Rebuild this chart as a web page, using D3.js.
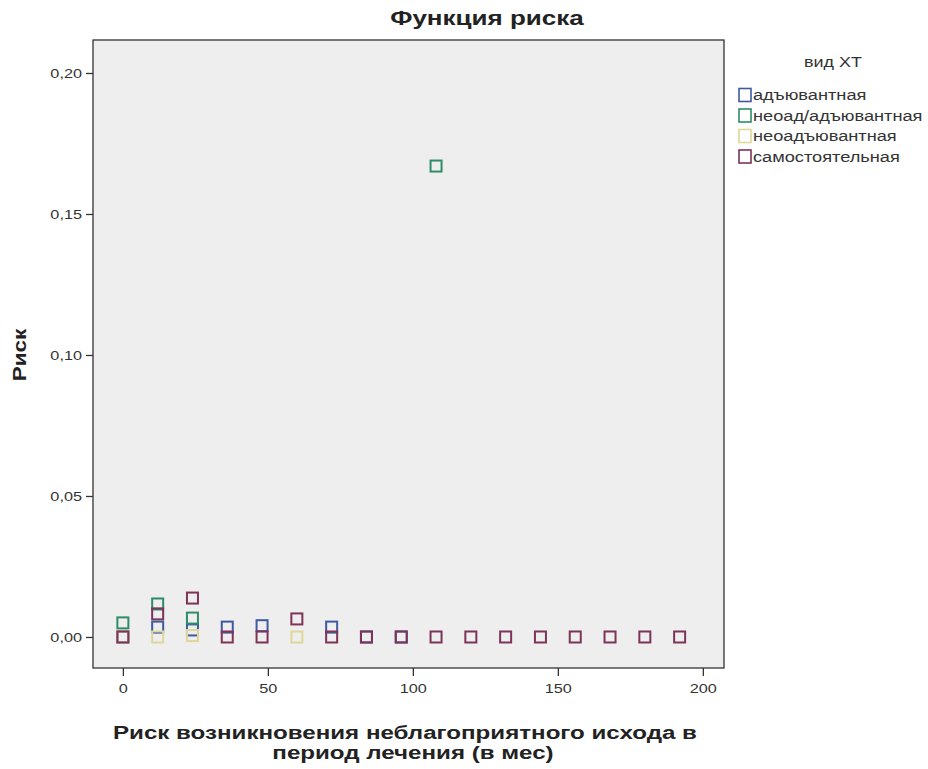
<!DOCTYPE html>
<html>
<head>
<meta charset="utf-8">
<script src="https://cdn.jsdelivr.net/npm/d3@7/dist/d3.min.js"></script>
<style>
  body { margin: 0; background: #fff; }
  svg { display: block; }
  text { font-family: "Liberation Sans", Arial, sans-serif; }
</style>
</head>
<body>
<svg id="chart" width="928" height="769"></svg>
<script>
// Follow-up time points, months
const months = [0, 12, 24, 36, 48, 60, 72, 84, 96, 108, 120, 132, 144, 156, 168, 180, 192];

// Hazard per group at each time point (null = no event time for that group)
const adjuvant    = [0, 0.0035, 0.0025, 0.0035, 0.004, null, 0.0035, 0, 0, null, null, null, null, null, null, null, null];
const neoAdjAdj   = [0.005, 0.0117, 0.0067, null, null, null, null, null, null, 0.167, null, null, null, null, null, null, null];
const neoadjuvant = [0, 0, 0.0005, null, null, 0, null, null, null, null, null, null, null, null, null, null, null];
const standalone  = [0, 0.0082, 0.0138, 0, 0, 0.0064, 0, 0, 0, 0, 0, 0, 0, 0, 0, 0, 0];

const groupNames = ["адъювантная", "неоад/адъювантная", "неоадъювантная", "самостоятельная"];
const groupColors = ["#3f5aa0", "#2e8c68", "#ddd89a", "#7d3458"];
const xTicks = [0, 50, 100, 150, 200];
const yTicks = [0, 0.05, 0.10, 0.15, 0.20];

const series = [adjuvant, neoAdjAdj, neoadjuvant, standalone];

const svg = d3.select("#chart");
const plot = { left: 93, top: 40, right: 724, bottom: 668 };

const x = d3.scaleLinear().domain([-10.3, 207.3]).range([plot.left, plot.right]);
const y = d3.scaleLinear().domain([-0.011, 0.2117]).range([plot.bottom, plot.top]);

// Widen glyphs horizontally by factor k (text is set in a wide face)
function widen(sel, k) {
  sel.each(function () {
    const w = this.getComputedTextLength();
    d3.select(this).attr("textLength", w * k).attr("lengthAdjust", "spacingAndGlyphs");
  });
}

// Plot background and frame
svg.append("rect")
  .attr("x", plot.left).attr("y", plot.top)
  .attr("width", plot.right - plot.left).attr("height", plot.bottom - plot.top)
  .attr("fill", "#eeeeee").attr("stroke", "#333").attr("stroke-width", 1.3);

// Axes
const fmt = d => d3.format(".2f")(d).replace(".", ",");
const yAxis = svg.append("g").attr("transform", `translate(${plot.left},0)`)
  .call(d3.axisLeft(y).tickValues(yTicks).tickFormat(fmt).tickSize(7).tickPadding(4));
const xAxis = svg.append("g").attr("transform", `translate(0,${plot.bottom})`)
  .call(d3.axisBottom(x).tickValues(xTicks).tickFormat(d3.format("d")).tickSize(8).tickPadding(8));
[xAxis, yAxis].forEach(a => {
  a.select(".domain").remove();
  a.selectAll(".tick line").attr("stroke", "#333").attr("stroke-width", 1.3);
  const t = a.selectAll(".tick text").attr("fill", "#333").style("font-size", "13px")
    .style("font-family", "'Liberation Sans', Arial, sans-serif");
  widen(t, 1.25);
});

// Markers: hollow squares, drawn group by group
const size = 11;
series.forEach((vals, gi) => {
  const pts = months.map((m, i) => ({ m, v: vals[i] })).filter(d => d.v !== null);
  svg.append("g").selectAll("rect").data(pts).join("rect")
    .attr("x", d => x(d.m) - size / 2)
    .attr("y", d => y(d.v) - size / 2)
    .attr("width", size).attr("height", size)
    .attr("fill", "none")
    .attr("stroke", groupColors[gi])
    .attr("stroke-width", 2);
});

// Title
const title = svg.append("text").attr("x", 487).attr("y", 25).attr("text-anchor", "middle")
  .style("font-size", "20px").style("font-weight", "bold").attr("fill", "#222")
  .text("Функция риска");
widen(title, 1.3);

// Y axis title
const yt = svg.append("text").attr("transform", "translate(26,355) rotate(-90)")
  .attr("text-anchor", "middle")
  .style("font-size", "18px").style("font-weight", "bold").attr("fill", "#222")
  .text("Риск");
widen(yt, 1.25);

// X axis title (two lines)
const xt = svg.append("text").attr("text-anchor", "middle")
  .style("font-size", "18px").style("font-weight", "bold").attr("fill", "#222");
xt.append("tspan").attr("x", 405).attr("y", 739).text("Риск возникновения неблагоприятного исхода в");
xt.append("tspan").attr("x", 413).attr("y", 759).text("период лечения (в мес)");
widen(xt.selectAll("tspan"), 1.34);

// Legend
const lg = svg.append("g");
const lt = lg.append("text").attr("x", 833).attr("y", 67).attr("text-anchor", "middle")
  .style("font-size", "14px").attr("fill", "#333").text("вид ХТ");
widen(lt, 1.28);
groupNames.forEach((name, i) => {
  const yy = 95 + i * 20.5;
  lg.append("rect").attr("x", 739).attr("y", yy - 6.5).attr("width", 12).attr("height", 13)
    .attr("fill", "none").attr("stroke", groupColors[i]).attr("stroke-width", 1.6);
  const t = lg.append("text").attr("x", 753).attr("y", yy + 5)
    .style("font-size", "14px").attr("fill", "#333").text(name);
  widen(t, 1.3);
});
</script>
</body>
</html>
